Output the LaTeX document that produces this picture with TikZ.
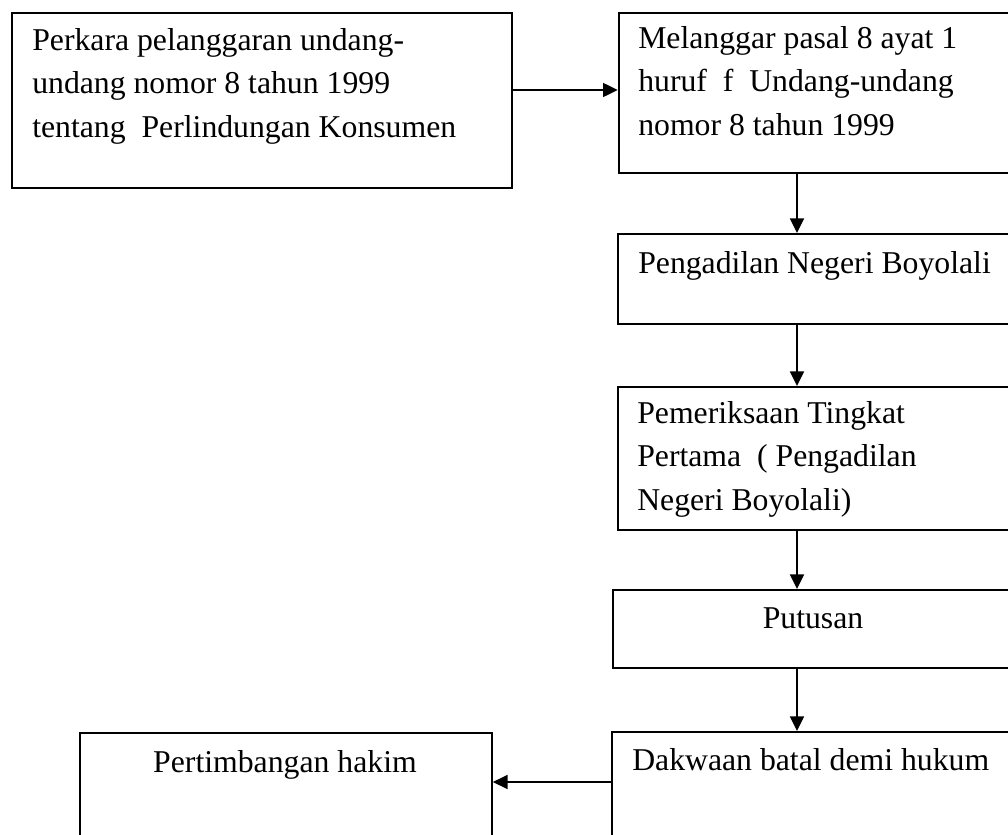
\documentclass[tikz,border=0pt]{standalone}
\usepackage{fontspec}
\setmainfont{Liberation Serif}
\usetikzlibrary{arrows.meta,calc}
\tikzset{
  box/.style={draw, line width=1.4pt, inner sep=0pt, anchor=north west},
  txt/.style={anchor=base west, align=left, inner sep=0pt, font=\fontsize{23.8}{32.3}\selectfont},
  ctxt/.style={anchor=base, inner sep=0pt, font=\fontsize{23.8}{32.3}\selectfont},
  arr/.style={line width=1.2pt, -{Triangle[length=11pt,width=10.5pt]}}
}
\begin{document}
\begin{tikzpicture}[x=0.75pt,y=-0.75pt]
\path[use as bounding box, clip] (0,0) rectangle (1008,835);
\fill[white] (0,0) rectangle (1008,835);
% boxes
\node[box, minimum width=375pt, minimum height=131.25pt] (A) at (11,12) {};
\node[box, minimum width=309pt, minimum height=120pt] (B) at (617.7,12) {};
\node[box, minimum width=309.75pt, minimum height=67.5pt] (C) at (617,233) {};
\node[box, minimum width=309.75pt, minimum height=107.25pt] (D) at (617,386) {};
\node[box, minimum width=313.5pt, minimum height=58.5pt] (E) at (612,589) {};
\node[box, minimum width=314.25pt, minimum height=104.25pt] (F) at (611,731) {};
\node[box, minimum width=309pt, minimum height=103.5pt] (G) at (79,732) {};
% texts (anchored at the baseline of the last line)
\node[txt] (tA) at (32,137) {Perkara pelanggaran undang-\\undang nomor 8 tahun 1999\\tentang\ \ Perlindungan Konsumen};
\node[txt] (tB) at (638,135) {Melanggar pasal 8 ayat 1\\huruf\ \ f\ \ Undang-undang\\nomor 8 tahun 1999};
\node[txt] (tC) at (638,273) {Pengadilan Negeri Boyolali};
\node[txt] (tD) at (637,510) {Pemeriksaan Tingkat\\Pertama\ \ ( Pengadilan\\Negeri Boyolali)};
\node[ctxt] (tE) at (813,628) {Putusan};
\node[txt] (tF) at (632,770) {Dakwaan batal demi hukum};
\node[ctxt] (tG) at (285,772) {Pertimbangan hakim};
% connectors
\coordinate (col) at (797,0);
\coordinate (rowA) at (0,90);
\coordinate (rowF) at (0,782);
\draw[arr] (A.east |- rowA) -- (B.west |- rowA);
\draw[arr] (B.south -| col) -- (C.north -| col);
\draw[arr] (C.south -| col) -- (D.north -| col);
\draw[arr] (D.south -| col) -- (E.north -| col);
\draw[arr] (E.south -| col) -- (F.north -| col);
\draw[arr] (F.west |- rowF) -- (G.east |- rowF);
\end{tikzpicture}
\end{document}
